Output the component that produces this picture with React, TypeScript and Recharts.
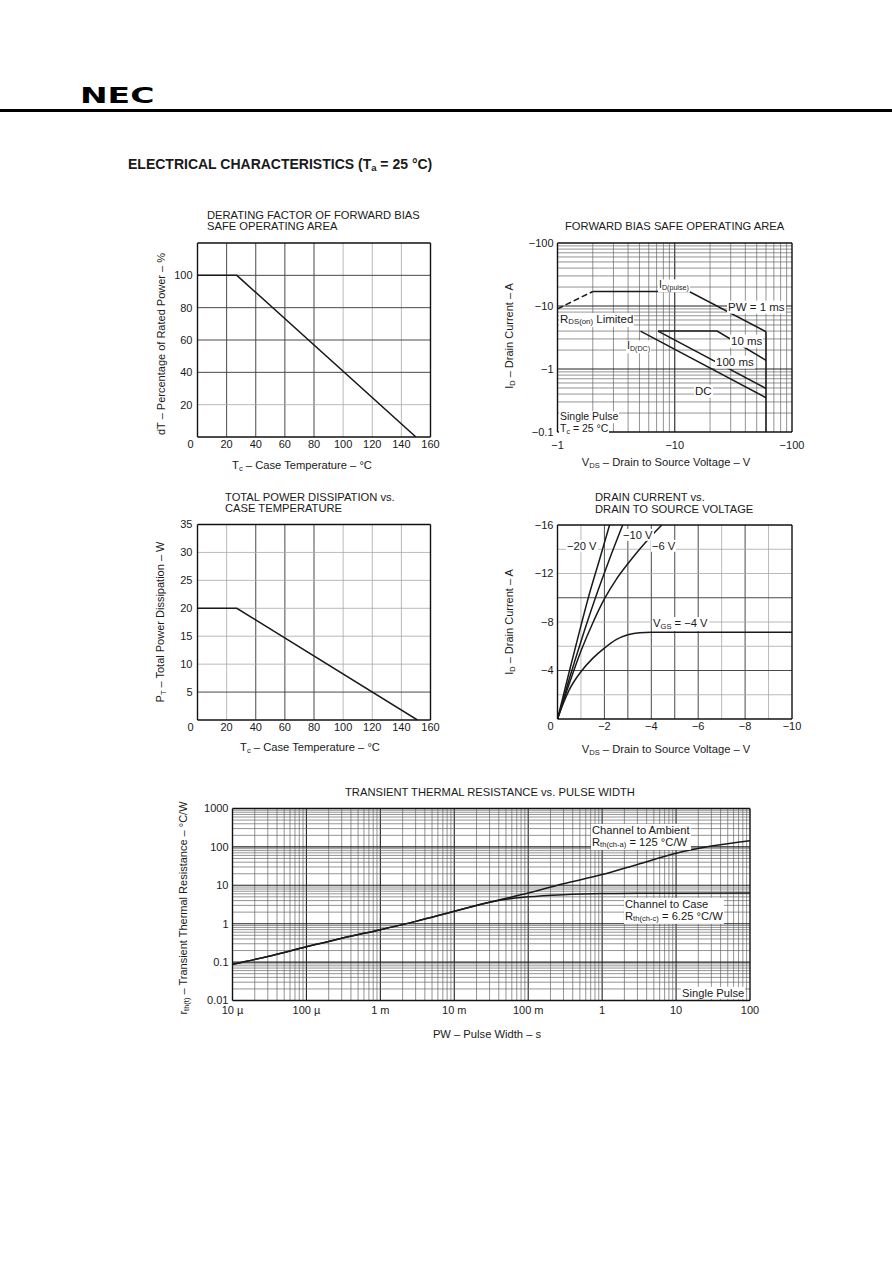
import React from 'react';
import { LineChart, Line, XAxis, YAxis, ReferenceLine } from 'recharts';

const FONT = '"Liberation Sans", Arial, Helvetica, sans-serif';
const INK = '#1a1a1a';

// derating factor of FBSOA
const derateTemp = [0, 27, 150];
const deratePct = [100, 100, 0];
const tempTicks = [0, 20, 40, 60, 80, 100, 120, 140, 160];
const derateTicksY = [20, 40, 60, 80, 100];

// total power dissipation
const powerTemp = [0, 27, 151];
const powerW = [20, 20, 0];
const powerTicksY = [5, 10, 15, 20, 25, 30, 35];

// forward bias SOA (magnitudes, labels shown negative)
const rdsVds = [1, 2];
const rdsId = [9, 17];
const pw1Vds = [2, 13.3, 60];
const pw1Id = [17, 17, 3.9];
const pw10Vds = [7.2, 23, 60];
const pw10Id = [4, 4, 1.37];
const pw100Vds = [7.2, 60];
const pw100Id = [4, 0.49];
const dcVds = [5.1, 60];
const dcId = [4, 0.35];
const limVds = [60, 60];
const limId = [3.9, 0.1];
const soaTicksX = [1, 10, 100];
const soaTicksY = [0.1, 1, 10, 100];

// drain current vs drain to source voltage (magnitudes)
const vgs4Vds = [0, 0.25, 0.5, 1, 1.5, 2, 2.5, 3, 3.5, 4, 10];
const vgs4Id = [0, 1.3, 2.4, 3.9, 5.0, 5.85, 6.55, 6.95, 7.12, 7.15, 7.15];
const vgs6Vds = [0, 0.5, 1, 1.5, 2, 2.5, 3, 3.5, 4, 4.45];
const vgs6Id = [0, 2.9, 5.6, 7.9, 9.9, 11.5, 12.8, 14, 15.1, 16];
const vgs10Vds = [0, 0.5, 1, 1.6, 2.2, 2.78];
const vgs10Id = [0, 3.3, 6.4, 9.9, 13.1, 16];
const vgs20Vds = [0, 0.5, 1, 1.3, 1.8, 2.22];
const vgs20Id = [0, 3.9, 7.7, 9.9, 13.2, 16];
const vdsTicks = [0, 2, 4, 6, 8, 10];
const idTicks = [4, 8, 12, 16];

// transient thermal resistance
const ambT = [1e-5, 3e-5, 1e-4, 3e-4, 1e-3, 3e-3, 1e-2, 3e-2, 1e-1, 3e-1, 1, 3, 10, 30, 100];
const ambR = [0.088, 0.14, 0.25, 0.42, 0.7, 1.15, 2.1, 3.6, 6.3, 11, 19, 35, 68, 105, 145];
const caseT = [1e-5, 3e-5, 1e-4, 3e-4, 1e-3, 3e-3, 1e-2, 3e-2, 6e-2, 1e-1, 3e-1, 1, 3, 10, 100];
const caseR = [0.088, 0.14, 0.25, 0.42, 0.7, 1.15, 2.1, 3.6, 4.5, 5.0, 5.7, 6.1, 6.2, 6.25, 6.3];
const pwTicks = [1e-5, 1e-4, 1e-3, 1e-2, 1e-1, 1, 10, 100];
const pwLabels = ['10 \u00b5', '100 \u00b5', '1 m', '10 m', '100 m', '1', '10', '100'];
const rthTicks = [0.01, 0.1, 1, 10, 100, 1000];
const rthLabels = ['0.01', '0.1', '1', '10', '100', '1000'];

const mult = [1, 2, 3, 4, 5, 6, 7, 8, 9];
const logGrid = (lo: number, hi: number) => {
  const out: number[] = [];
  for (let k = lo; k < hi; k++) mult.forEach((m) => out.push(m * Math.pow(10, k)));
  return out.filter((v) => v > Math.pow(10, lo) * 1.0001);
};

const pts = (xs: number[], ys: number[]) => xs.map((x, i) => ({ x, y: ys[i] }));
const neg = (v: number) => (v === 0 ? '0' : '\u2212' + v);
const XH = 25;

type Box = { left: number; top: number; width: number; height: number; pl: number; pt: number; pr: number; pb: number };
const B1: Box = { left: 150, top: 235, width: 300, height: 235, pl: 197.5, pt: 243, pr: 430.5, pb: 437 };
const B2: Box = { left: 150, top: 516, width: 300, height: 235, pl: 197.5, pt: 524.5, pr: 430.5, pb: 720 };
const B3: Box = { left: 500, top: 235, width: 310, height: 235, pl: 557.5, pt: 243, pr: 792, pb: 432 };
const B4: Box = { left: 500, top: 516, width: 310, height: 235, pl: 557.5, pt: 525, pr: 792, pb: 719 };
const B5: Box = { left: 180, top: 800, width: 590, height: 230, pl: 232.5, pt: 808.5, pr: 750, pb: 1000.5 };

const margins = (b: Box) => ({
  top: b.pt - b.top,
  right: b.left + b.width - b.pr,
  bottom: b.top + b.height - b.pb - XH,
  left: 0,
});

const xTick = (fmt: (v: number) => string, zeroShift = 0) => (p: any) => (
  <text
    x={p.x + (p.payload.value === 0 ? zeroShift : 0)}
    y={p.y}
    dy="0.71em"
    textAnchor="middle"
    fontSize={11}
    fontFamily={FONT}
    fill={INK}
  >
    {fmt(p.payload.value)}
  </text>
);
const yTick = (fmt: (v: number) => string) => (p: any) => (
  <text x={p.x} y={p.y} dy="0.355em" textAnchor="end" fontSize={11} fontFamily={FONT} fill={INK}>
    {fmt(p.payload.value)}
  </text>
);
const lookup = (ticks: number[], labels: string[]) => (v: number) => {
  const i = ticks.findIndex((t) => Math.abs(Math.log10(t) - Math.log10(v)) < 1e-6);
  return i >= 0 ? labels[i] : '';
};

const gridLines = (axis: 'x' | 'y', values: number[], faint: (v: number) => boolean, logMode = false) =>
  values.map((v) => {
    const f = faint(v);
    const props: any = { [axis]: v };
    return (
      <ReferenceLine
        key={axis + v}
        {...props}
        stroke={logMode ? (f ? '#666' : '#222') : f ? '#a8a8a8' : '#4a4a4a'}
        strokeWidth={logMode ? (f ? 0.7 : 1.1) : f ? 0.8 : 1}
      />
    );
  });

const frame = (xd: number[], yd: number[]) => [
  <ReferenceLine key="f1" x={xd[0]} stroke="#111" strokeWidth={1.4} />,
  <ReferenceLine key="f2" x={xd[1]} stroke="#111" strokeWidth={1.4} />,
  <ReferenceLine key="f3" y={yd[0]} stroke="#111" strokeWidth={1.4} />,
  <ReferenceLine key="f4" y={yd[1]} stroke="#111" strokeWidth={1.4} />,
];

const curve = (key: string, xs: number[], ys: number[], type: 'linear' | 'monotone' = 'linear', dash?: string) => (
  <Line
    key={key}
    data={pts(xs, ys)}
    dataKey="y"
    type={type}
    stroke={INK}
    strokeWidth={1.5}
    strokeDasharray={dash}
    dot={false}
    activeDot={false}
    isAnimationActive={false}
  />
);

const notLog = (v: number) => Math.abs(Math.log10(v) - Math.round(Math.log10(v))) > 1e-6;

const S = ({ children }: { children: React.ReactNode }) => (
  <span style={{ fontSize: '0.68em', verticalAlign: '-0.2em' }}>{children}</span>
);

function T({ x, y, size = 11.2, center = false, bg = false, bold = false, children }: any) {
  return (
    <div
      style={{
        position: 'absolute',
        left: x,
        top: y,
        transform: center ? 'translate(-50%,-50%)' : 'translateY(-50%)',
        fontSize: size,
        lineHeight: 1.1,
        whiteSpace: 'nowrap',
        fontWeight: bold ? 700 : 400,
        background: bg ? '#fff' : undefined,
        padding: bg ? '0 1px' : undefined,
      }}
    >
      {children}
    </div>
  );
}
function VT({ x, y, size = 11, children }: any) {
  return (
    <div
      style={{
        position: 'absolute',
        left: x,
        top: y,
        transform: 'translate(-50%,-50%) rotate(-90deg)',
        fontSize: size,
        lineHeight: 1,
        whiteSpace: 'nowrap',
      }}
    >
      {children}
    </div>
  );
}

function Panel({ box, children }: { box: Box; children: React.ReactNode }) {
  return (
    <div style={{ position: 'absolute', left: box.left, top: box.top }}>
      <LineChart width={box.width} height={box.height} margin={margins(box)}>
        {children}
      </LineChart>
    </div>
  );
}

const axisCommon = { axisLine: false, tickLine: false, tickSize: 0, interval: 0 as const, allowDataOverflow: true };

export default function App() {
  return (
    <div
      style={{
        position: 'absolute',
        left: 0,
        top: 0,
        width: 892,
        height: 1263,
        background: '#fff',
        fontFamily: FONT,
        color: INK,
        overflow: 'hidden',
      }}
    >
      {/* header */}
      <div
        style={{
          position: 'absolute',
          left: 80,
          top: 85,
          fontFamily: '"DejaVu Sans", sans-serif',
          fontWeight: 900,
          fontSize: 22,
          lineHeight: 1,
          transform: 'scaleX(1.5)',
          transformOrigin: 'left top',
          color: '#000',
        }}
      >
        NEC
      </div>
      <div style={{ position: 'absolute', left: 0, top: 109, width: 892, height: 3, background: '#000' }} />
      <T x={128} y={165} size={14} bold>
        ELECTRICAL CHARACTERISTICS (T<S>a</S> = 25 °C)
      </T>

      {/* chart 1 */}
      <T x={207} y={215}>DERATING FACTOR OF FORWARD BIAS</T>
      <T x={207} y={226}>SAFE OPERATING AREA</T>
      <Panel box={B1}>
        <XAxis type="number" dataKey="x" domain={[0, 160]} ticks={tempTicks} height={XH} tickMargin={3} tick={xTick(String, -7)} {...axisCommon} />
        <YAxis type="number" dataKey="y" domain={[0, 120]} ticks={derateTicksY} width={B1.pl - B1.left} tickMargin={5} tick={yTick(String)} {...axisCommon} />
        {gridLines('x', [20, 40, 60, 80, 100, 120, 140], (v) => v >= 100)}
        {gridLines('y', [20, 40, 60, 80, 100], (v) => v === 20)}
        {curve('derate', derateTemp, deratePct)}
        {frame([0, 160], [0, 120])}
      </Panel>
      <VT x={161} y={344}>dT – Percentage of Rated Power – %</VT>
      <T x={302} y={466} center>T<S>c</S> – Case Temperature – °C</T>

      {/* chart 2 */}
      <T x={225} y={497}>TOTAL POWER DISSIPATION vs.</T>
      <T x={225} y={508}>CASE TEMPERATURE</T>
      <Panel box={B2}>
        <XAxis type="number" dataKey="x" domain={[0, 160]} ticks={tempTicks} height={XH} tickMargin={3} tick={xTick(String, -7)} {...axisCommon} />
        <YAxis type="number" dataKey="y" domain={[0, 35]} ticks={powerTicksY} width={B2.pl - B2.left} tickMargin={5} tick={yTick(String)} {...axisCommon} />
        {gridLines('x', [20, 40, 60, 80, 100, 120, 140], (v) => v === 20 || v >= 100)}
        {gridLines('y', [5, 10, 15, 20, 25, 30], (v) => v !== 5)}
        {curve('power', powerTemp, powerW)}
        {frame([0, 160], [0, 35])}
      </Panel>
      <VT x={161} y={622}>P<S>T</S> – Total Power Dissipation – W</VT>
      <T x={310} y={748} center>T<S>c</S> – Case Temperature – °C</T>

      {/* chart 3 */}
      <T x={565} y={226}>FORWARD BIAS SAFE OPERATING AREA</T>
      <Panel box={B3}>
        <XAxis type="number" dataKey="x" scale="log" domain={[1, 100]} ticks={soaTicksX} height={XH} tickMargin={9} tick={xTick(neg)} {...axisCommon} />
        <YAxis type="number" dataKey="y" scale="log" domain={[0.1, 100]} ticks={soaTicksY} width={B3.pl - B3.left} tickMargin={4} tick={yTick(neg)} {...axisCommon} />
        {gridLines('x', logGrid(0, 2), notLog, true)}
        {gridLines('y', logGrid(-1, 2), notLog, true)}
        {curve('rds', rdsVds, rdsId, 'linear', '6 3')}
        {curve('pw1', pw1Vds, pw1Id)}
        {curve('pw10', pw10Vds, pw10Id)}
        {curve('pw100', pw100Vds, pw100Id)}
        {curve('dc', dcVds, dcId)}
        {curve('lim', limVds, limId)}
        {frame([1, 100], [0.1, 100])}
      </Panel>
      <T x={658} y={286} size={10.5} bg>I<S>D(pulse)</S></T>
      <T x={727} y={307} size={11.5} bg>PW = 1 ms</T>
      <T x={559} y={320} size={11.5} bg>R<S>DS(on)</S> Limited</T>
      <T x={730} y={341} size={11.5} bg>10 ms</T>
      <T x={626} y={347} size={10.5} bg>I<S>D(DC)</S></T>
      <T x={715} y={362} size={11.5} bg>100 ms</T>
      <T x={694} y={391} size={11.5} bg>DC</T>
      <T x={559} y={417} size={10.5} bg>Single Pulse</T>
      <T x={559} y={430} size={10.5} bg>T<S>c</S> = 25 °C</T>
      <VT x={510} y={336}>I<S>D</S> – Drain Current – A</VT>
      <T x={666} y={463} center>V<S>DS</S> – Drain to Source Voltage – V</T>

      {/* chart 4 */}
      <T x={595} y={497}>DRAIN CURRENT vs.</T>
      <T x={595} y={509}>DRAIN TO SOURCE VOLTAGE</T>
      <Panel box={B4}>
        <XAxis type="number" dataKey="x" domain={[0, 10]} ticks={vdsTicks} height={XH} tickMargin={3.5} tick={xTick(neg, -7)} {...axisCommon} />
        <YAxis type="number" dataKey="y" domain={[0, 16]} ticks={idTicks} width={B4.pl - B4.left} tickMargin={4} tick={yTick(neg)} {...axisCommon} />
        {gridLines('x', [1, 2, 3, 4, 5, 6, 7, 8, 9], (v) => v === 1 || v === 7 || v === 9)}
        {gridLines('y', [2, 4, 6, 8, 10, 12, 14], (v) => v !== 4 && v !== 10)}
        {curve('v20', vgs20Vds, vgs20Id, 'monotone')}
        {curve('v10', vgs10Vds, vgs10Id, 'monotone')}
        {curve('v6', vgs6Vds, vgs6Id, 'monotone')}
        {curve('v4', vgs4Vds, vgs4Id, 'monotone')}
        {frame([0, 10], [0, 16])}
      </Panel>
      <T x={566} y={546} bg>−20 V</T>
      <T x={622} y={535} bg>−10 V</T>
      <T x={651} y={546} bg>−6 V</T>
      <T x={652} y={624} bg>V<S>GS</S> = −4 V</T>
      <VT x={510} y={622}>I<S>D</S> – Drain Current – A</VT>
      <T x={666} y={750} center>V<S>DS</S> – Drain to Source Voltage – V</T>

      {/* chart 5 */}
      <T x={345} y={792}>TRANSIENT THERMAL RESISTANCE vs. PULSE WIDTH</T>
      <Panel box={B5}>
        <XAxis type="number" dataKey="x" scale="log" domain={[1e-5, 100]} ticks={pwTicks} height={XH} tickMargin={6} tick={xTick(lookup(pwTicks, pwLabels))} {...axisCommon} />
        <YAxis type="number" dataKey="y" scale="log" domain={[0.01, 1000]} ticks={rthTicks} width={B5.pl - B5.left} tickMargin={4} tick={yTick(lookup(rthTicks, rthLabels))} {...axisCommon} />
        {gridLines('x', logGrid(-5, 2), notLog, true)}
        {gridLines('y', logGrid(-2, 3), notLog, true)}
        {curve('case', caseT, caseR, 'monotone')}
        {curve('amb', ambT, ambR, 'monotone')}
        {frame([1e-5, 100], [0.01, 1000])}
      </Panel>
      <T x={591} y={837} bg>
        Channel to Ambient
        <br />
        R<S>th(ch-a)</S> = 125 °C/W
      </T>
      <T x={624} y={911} bg>
        Channel to Case
        <br />
        R<S>th(ch-c)</S> = 6.25 °C/W
      </T>
      <T x={681} y={993} bg>Single Pulse</T>
      <VT x={184} y={908}>r<S>th(t)</S> – Transient Thermal Resistance – °C/W</VT>
      <T x={487} y={1034} center>PW – Pulse Width – s</T>
    </div>
  );
}
